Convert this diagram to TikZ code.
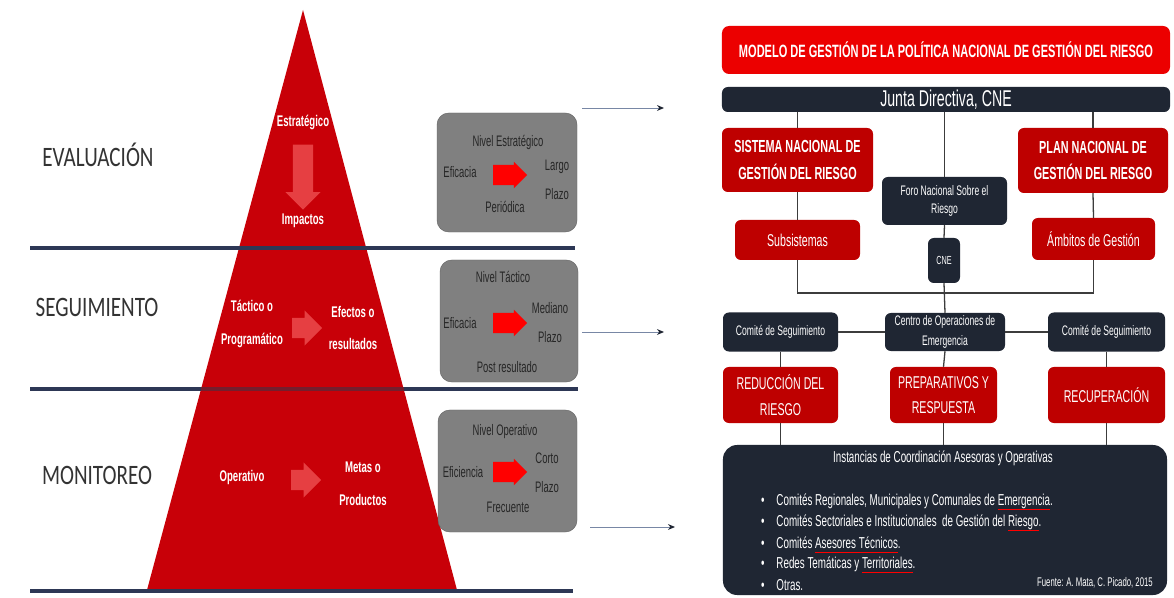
\documentclass[tikz,border=0pt]{standalone}
\usepackage{fontspec}
\setmainfont{Liberation Sans}
\newfontfamily\condfont[FakeStretch=0.62]{Liberation Sans}
\newfontfamily\levelfont[FakeStretch=0.75]{Carlito}
\usetikzlibrary{shapes.arrows,arrows.meta}

\definecolor{pyrred}{RGB}{200,0,8}
\definecolor{titlered}{RGB}{236,0,0}
\definecolor{boxred}{RGB}{190,0,0}
\definecolor{navy}{RGB}{31,38,51}
\definecolor{rulenavy}{RGB}{45,55,85}
\definecolor{rulemaroon}{RGB}{115,30,45}
\definecolor{boxgray}{RGB}{128,128,128}
\definecolor{linkgray}{RGB}{60,60,60}
\definecolor{pointer}{RGB}{120,135,165}

% red spell-check underline
\newcommand{\spellerr}[1]{{\setbox0\hbox{#1}\rlap{\textcolor{red}{\rule[-0.45ex]{\wd0}{0.7pt}}}\box0}}

\tikzset{
  redbox/.style={fill=boxred, rounded corners=5pt, text=white, align=center, inner sep=0pt},
  darkbox/.style={fill=navy, rounded corners=5pt, text=white, align=center, inner sep=0pt},
  graybox/.style={fill=boxgray, draw=boxgray!80!black, rounded corners=10pt, inner sep=0pt},
  pyrtext/.style={text=white, align=center, font=\condfont\bfseries\fontsize{13.2}{28}\selectfont},
  graytext/.style={text=black!85, align=center, font=\condfont\fontsize{13}{25}\selectfont},
  bullettext/.style={text=white, anchor=west, inner sep=0pt, font=\condfont\fontsize{13.5}{15}\selectfont},
  leveltext/.style={font=\levelfont\fontsize{24}{26}\selectfont, text=black!80},
  link/.style={draw=linkgray, line width=1.1pt},
  pointerarrow/.style={draw=pointer, line width=0.8pt, -{Stealth[length=6pt,width=5pt,color=navy]}},
  blockarrow/.style={single arrow, fill=red, inner xsep=0pt, inner ysep=0.3cm, single arrow head extend=0.09cm, minimum height=1.02cm},
  fadearrow/.style={single arrow, fill=red!55!white, fill opacity=0.55, inner xsep=0pt, inner ysep=0.3cm, single arrow head extend=0.22cm},
  levelrule/.style={draw=rulenavy, line width=2.6pt},
}

\begin{document}
\begin{tikzpicture}[x=0.03cm, y=-0.03cm]
    \useasboundingbox[fill=white] (0,0) rectangle (1174,598);

    % Pyramid
    \fill[pyrred] (303,10) -- (457,590) -- (147,590) -- cycle;

    % Level rules
    \draw[levelrule] (30,248) -- (575,248);
    \draw[levelrule] (30,389) -- (578,389);
    \draw[levelrule, draw=rulemaroon] (201,389) -- (404,389);
    \draw[levelrule] (30,591) -- (573,591);

    % Level labels
    \node[leveltext] (eval) at (98,155) {EVALUACIÓN};
    \node[leveltext] (segui) at (97,307) {SEGUIMIENTO};
    \node[leveltext] (monit) at (97,475) {MONITOREO};

    % Pyramid texts
    \node[pyrtext] (estrat) at (303,122) {Estratégico};
    \node[fadearrow, shape border rotate=270, inner xsep=0.3cm, inner ysep=0pt, minimum height=1.95cm] (downA) at (303,172) {};
    \node[pyrtext] (impact) at (303,221) {Impactos};
    \node[pyrtext] (tactic) at (252,324) {Táctico o\\Programático};
    \node[fadearrow, minimum height=0.9cm] (rightB) at (302,328) {};
    \node[pyrtext] (efect) at (353,328) {Efectos o\\resultados};
    \node[pyrtext] (operat) at (242,478) {Operativo};
    \node[fadearrow, minimum height=0.9cm] (rightC) at (301,480) {};
    \node[pyrtext] (metas) at (363,484) {Metas o\\Productos};

    % Gray level boxes
    \node[graybox, minimum width=4.2cm, minimum height=3.57cm] (nivA) at (507,172.5) {};
    \node[graytext] (nivAt) at (508,142) {Nivel Estratégico};
    \node[graytext] (nivAl) at (460,172) {Eficacia};
    \node[blockarrow] (nivAa) at (505,175) {};
    \node[graytext] (nivAr) at (557,180) {Largo\\Plazo};
    \node[graytext] (nivAb) at (505,207) {Periódica};

    \node[graybox, minimum width=4.14cm, minimum height=3.66cm] (nivB) at (509,321) {};
    \node[graytext] (nivBt) at (503,277) {Nivel Táctico};
    \node[graytext] (nivBl) at (460,323) {Eficacia};
    \node[blockarrow] (nivBa) at (505,323) {};
    \node[graytext] (nivBr) at (550,322.5) {Mediano\\Plazo};
    \node[graytext] (nivBb) at (507,367) {Post resultado};

    \node[graybox, minimum width=4.17cm, minimum height=3.66cm] (nivC) at (507.5,471) {};
    \node[graytext] (nivCt) at (505,432) {Nivel Operativo};
    \node[graytext] (nivCl) at (463,472) {Eficiencia};
    \node[blockarrow] (nivCa) at (505,472) {};
    \node[graytext] (nivCr) at (547,472.5) {Corto\\Plazo};
    \node[graytext] (nivCb) at (508,507) {Frecuente};

    % Pointers to the model
    \coordinate (pA) at (582,108);
    \coordinate (qA) at (664,108);
    \coordinate (pB) at (582,332);
    \coordinate (qB) at (664,332);
    \coordinate (pC) at (590,527);
    \coordinate (qC) at (675,527);
    \draw[pointerarrow] (pA) -- (qA);
    \draw[pointerarrow] (pB) -- (qB);
    \draw[pointerarrow] (pC) -- (qC);

    % Model boxes
    \node[fill=titlered, rounded corners=6pt, minimum width=13.44cm, minimum height=1.44cm, text=white, font=\condfont\bfseries\fontsize{15.2}{17}\selectfont] (title) at (946,50) {MODELO DE GESTIÓN DE LA POLÍTICA NACIONAL DE GESTIÓN DEL RIESGO};
    \node[darkbox, minimum width=13.44cm, minimum height=0.75cm, font=\condfont\fontsize{19.5}{22}\selectfont] (junta) at (946,99.5) {Junta Directiva, CNE};
    \node[redbox, minimum width=4.53cm, minimum height=1.92cm, font=\condfont\bfseries\fontsize{14.9}{23}\selectfont] (snacional) at (797.5,160) {SISTEMA NACIONAL DE\\GESTIÓN DEL RIESGO};
    \node[redbox, minimum width=4.5cm, minimum height=1.95cm, font=\condfont\bfseries\fontsize{14.9}{23}\selectfont] (pnacional) at (1093,160.5) {PLAN NACIONAL DE\\GESTIÓN DEL RIESGO};
    \node[darkbox, minimum width=3.75cm, minimum height=1.44cm, font=\condfont\fontsize{11.8}{16}\selectfont] (foro) at (944.5,201) {Foro Nacional Sobre el\\Riesgo};
    \node[redbox, minimum width=3.75cm, minimum height=1.2cm, font=\condfont\fontsize{14.6}{16}\selectfont] (subsis) at (797.5,240) {Subsistemas};
    \node[redbox, minimum width=3.69cm, minimum height=1.26cm, font=\condfont\fontsize{14.6}{16}\selectfont] (ambitos) at (1093.5,239) {Ámbitos de Gestión};
    \node[darkbox, minimum width=0.96cm, minimum height=1.35cm, font=\condfont\fontsize{10}{12}\selectfont] (cne) at (944,260.5) {CNE};
    \coordinate (bus) at (944,293);
    \node[darkbox, minimum width=3.45cm, minimum height=1.17cm, font=\condfont\fontsize{11.8}{13}\selectfont] (comiteL) at (780.5,332) {Comité de Seguimiento};
    \node[darkbox, minimum width=3.6cm, minimum height=1.14cm, font=\condfont\fontsize{11.8}{17}\selectfont] (coe) at (945,332) {Centro de Operaciones de\\Emergencia};
    \node[darkbox, minimum width=3.51cm, minimum height=1.17cm, font=\condfont\fontsize{11.8}{13}\selectfont] (comiteR) at (1106.5,332) {Comité de Seguimiento};
    \node[redbox, minimum width=3.45cm, minimum height=1.68cm, font=\condfont\fontsize{14.6}{22}\selectfont] (reduccion) at (780.5,395) {REDUCCIÓN DEL\\RIESGO};
    \node[redbox, minimum width=3.21cm, minimum height=1.68cm, font=\condfont\fontsize{14.6}{22}\selectfont] (prepar) at (943.5,395) {PREPARATIVOS Y\\RESPUESTA};
    \node[redbox, minimum width=3.51cm, minimum height=1.68cm, font=\condfont\fontsize{14.6}{22}\selectfont] (recup) at (1106.5,395) {RECUPERACIÓN};
    \node[darkbox, rounded corners=12pt, minimum width=13.32cm, minimum height=4.5cm] (instancias) at (945,520) {};

    % Instancias contents
    \node[text=white, font=\condfont\fontsize{13.5}{15}\selectfont] (instTitle) at (943,458) {Instancias de Coordinación Asesoras y Operativas};
    \node[bullettext] (itemA) at (761,502) {\makebox[13pt][l]{•}Comités Regionales, Municipales y Comunales de \spellerr{Emergencia}.};
    \node[bullettext] (itemB) at (761,523) {\makebox[13pt][l]{•}Comités Sectoriales e Institucionales\ \ de Gestión del \spellerr{Riesgo}.};
    \node[bullettext] (itemC) at (761,545) {\makebox[13pt][l]{•}Comités \spellerr{Asesores Técnicos}.};
    \node[bullettext] (itemD) at (761,565) {\makebox[13pt][l]{•}Redes Temáticas y \spellerr{Territoriales}.};
    \node[bullettext] (itemE) at (761,585) {\makebox[13pt][l]{•}Otras.};
    \node[text=white, anchor=east, inner sep=0pt, font=\condfont\fontsize{10.7}{12}\selectfont] (fuente) at (1153,583) {Fuente: A. Mata, C. Picado, 2015};

    % Connectors
    \draw[link] (junta.south -| snacional) -- (snacional.north);
    \draw[link] (junta.south -| foro) -- (foro.north);
    \draw[link] (junta.south -| pnacional) -- (pnacional.north);
    \draw[link] (snacional.south) -- (subsis.north);
    \draw[link] (pnacional.south) -- (ambitos.north);
    \draw[link] (foro.south) -- (cne.north);
    \draw[link] (subsis.south) |- (bus) -| (ambitos.south);
    \draw[link] (cne.south) -- (coe.north);
    \draw[link] (comiteL.east) -- (coe.west);
    \draw[link] (coe.east) -- (comiteR.west);
    \draw[link] (comiteL.south) -- (reduccion.north);
    \draw[link] (coe.south) -- (prepar.north);
    \draw[link] (comiteR.south) -- (recup.north);
    \draw[link] (reduccion.south) -- (reduccion.south |- instancias.north);
    \draw[link] (prepar.south) -- (prepar.south |- instancias.north);
    \draw[link] (recup.south) -- (recup.south |- instancias.north);

\end{tikzpicture}
\end{document}
